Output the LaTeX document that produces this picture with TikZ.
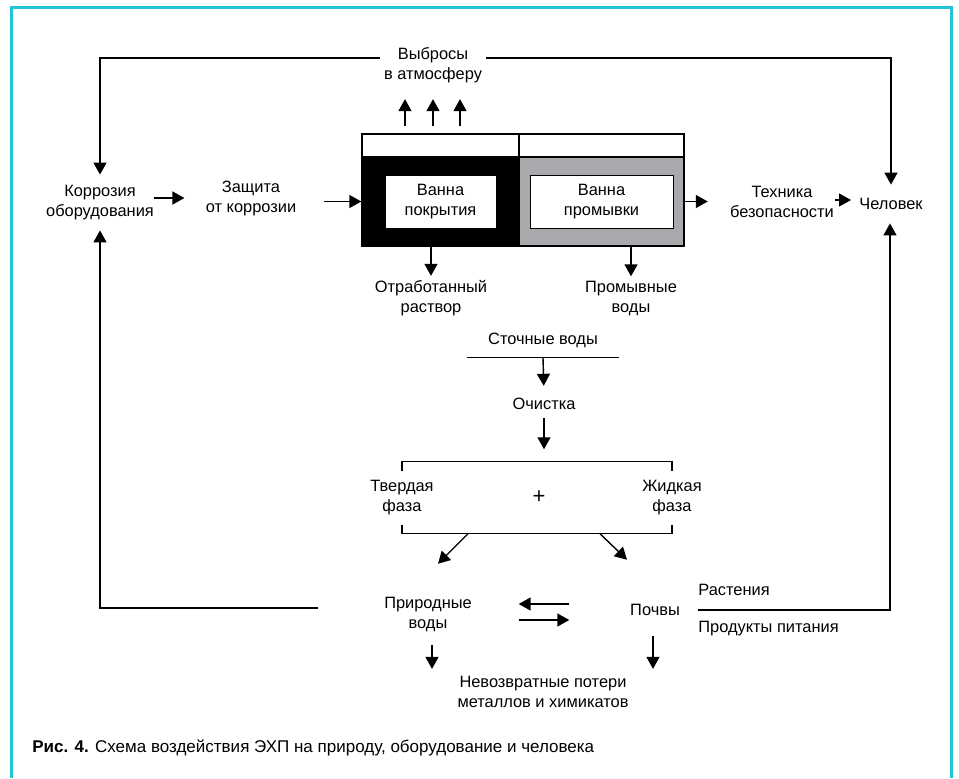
\documentclass[tikz,border=0pt]{standalone}
\usepackage{fontspec}
\setmainfont{Liberation Sans}
\usepackage{xcolor}
\usepackage{tikz}
\usetikzlibrary{arrows.meta}

\definecolor{framecyan}{RGB}{35,196,214}
\definecolor{bathgray}{RGB}{167,169,172}

\begin{document}
\begin{tikzpicture}[
  x=0.5pt, y=-0.5pt,
  font=\fontsize{8.2}{10}\selectfont,
  lbl/.style={align=center, inner sep=2pt},
  bath/.style={draw, line width=0.7pt, inner sep=0pt, minimum height=44.5pt},
  strip/.style={draw, fill=white, line width=0.7pt, inner sep=0pt, minimum height=11.5pt},
  inbox/.style={draw, fill=white, line width=0.4pt, align=center, inner sep=0pt, minimum height=26.5pt},
  arrow/.style={-{Triangle[length=6pt, width=6.5pt]}, line width=0.7pt},
  line/.style={line width=0.7pt}
]
  \useasboundingbox (0,0) rectangle (959,778);

  % Frame
  \draw[framecyan, line width=1.5pt] (11.5,778) -- (11.5,7.5) -- (951.5,7.5) -- (951.5,778);

  % Top row
  \node[lbl] (emis) at (433,65) {Выбросы\\в атмосферу};
  \node[lbl, minimum height=27.5pt] (corr) at (100,202.5) {Коррозия\\оборудования};
  \node[lbl] (prot) at (251,198) {Защита\\от коррозии};
  \node[lbl] (tech) at (782,202) {Техника\\безопасности};
  \node[lbl, minimum height=19pt] (man) at (891,204) {Человек};

  % Baths
  \node[strip, minimum width=78.5pt] (stripL) at (440.5,145.5) {};
  \node[strip, minimum width=82.5pt] (stripR) at (601.5,145.5) {};
  \node[bath, fill=black, minimum width=78.5pt] (coat) at (440.5,201.5) {};
  \node[bath, fill=bathgray, minimum width=82.5pt] (rinse) at (601.5,201.5) {};
  \node[inbox, minimum width=55.5pt] (coatin) at (440.5,201.5) {Ванна\\покрытия};
  \node[inbox, minimum width=71.5pt] (rinsein) at (601.5,201.5) {Ванна\\промывки};

  % Outflows
  \node[lbl] (spent) at (431,298) {Отработанный\\раствор};
  \node[lbl] (rinsew) at (631,298) {Промывные\\воды};
  \node[lbl, minimum width=76pt] (waste) at (543,340) {Сточные воды};
  \node[lbl] (clean) at (544,404) {Очистка};

  % Phases
  \node[lbl] (solid) at (402,498) {Твердая\\фаза};
  \node[lbl, font=\fontsize{11}{12}\selectfont] (plus) at (539,497) {+};
  \node[lbl] (liquid) at (672,498) {Жидкая\\фаза};

  % Nature
  \node[lbl] (nat) at (428,614) {Природные\\воды};
  \node[lbl] (soil) at (655,610) {Почвы};
  \node[lbl, anchor=west] (plants) at (694,590) {Растения};
  \node[lbl, anchor=west] (food) at (694,629) {Продукты питания};
  \node[lbl] (loss) at (543,692) {Невозвратные потери\\металлов и химикатов};

  % Caption
  \node[anchor=west, inner sep=0pt, font=\fontsize{8.5}{10}\selectfont] (cap) at (32,748)
    {\textbf{Рис. 4.} Схема воздействия ЭХП на природу, оборудование и человека};

  % Arrows
  \draw[arrow] ([yshift=3.5pt]emis.east) -| (man.north);
  \draw[arrow] ([yshift=3.5pt]emis.west) -| (corr.north);
  \draw[arrow, shorten <=-2pt, shorten >=8.5pt] (corr.east |- prot.west) -- (prot.west);
  \draw[arrow, shorten <=11.5pt] (prot.east |- coat.west) -- (coat.west);

  \foreach \dx [count=\i] in {-17.75,-3.75,9.75}
    \coordinate (up\i) at ([xshift=\dx pt]stripL.north);
  \foreach \i in {1,2,3}
    \draw[arrow, shorten <=3.5pt, shorten >=6pt] (up\i) -- (up\i |- emis.south);

  \draw[arrow] (spent.north |- coat.south) -- (spent.north);
  \draw[arrow] (rinsew.north |- rinse.south) -- (rinsew.north);
  \draw[arrow, shorten >=9pt] (rinse.east) -- (rinse.east -| tech.west);
  \draw[arrow, shorten <=-1.5pt, shorten >=2pt] ([yshift=2pt]man.west -| tech.east) -- ([yshift=2pt]man.west);

  \draw[line] ([yshift=-3pt]waste.south west) -- ([yshift=-3pt]waste.south east);
  \draw[arrow, shorten >=4pt] ([yshift=-3pt]waste.south) -- (clean.north);

  % Brackets
  \draw[line] ([yshift=2.5pt]solid.north) -- ([yshift=7.5pt]solid.north) -| ([yshift=2.5pt]liquid.north);
  \draw[line] ([yshift=-2.5pt]solid.south) -- ([yshift=-7pt]solid.south) -| ([yshift=-2.5pt]liquid.south);
  \path ([yshift=7.5pt]solid.north) coordinate (btopL);
  \path ([yshift=-7pt]solid.south) coordinate (bbotL);
  \draw[arrow, shorten <=2pt, shorten >=6pt] (clean.south) -- (btopL -| clean.south);

  \coordinate (dl) at ([xshift=33pt]bbotL);
  \coordinate (dr) at ([xshift=99pt]bbotL);
  \draw[arrow] (dl) -- ++(-30,30);
  \draw[arrow] (dr) -- ++(27,26);

  \draw[arrow, shorten <=28.25pt, shorten >=21.25pt] ([yshift=3pt]soil.west) -- ([yshift=5pt]nat.east);
  \draw[arrow, shorten <=21.25pt, shorten >=28.25pt] ([yshift=-3pt]nat.east) -- ([yshift=-5pt]soil.west);

  \draw[arrow, shorten <=4.5pt, shorten >=1.5pt] ([xshift=2pt]nat.south) -- ([xshift=2pt]nat.south |- loss.north);
  \draw[arrow, shorten <=8pt, shorten >=1.5pt] ([xshift=-1pt]soil.south) -- ([xshift=-1pt]soil.south |- loss.north);

  % Return lines
  \coordinate (crop) at (plants.west |- soil.east);
  \draw[arrow] ([xshift=2pt]crop) -| ([xshift=-0.5pt]man.south);
  \draw[arrow] ([xshift=-31pt, yshift=3pt]nat.west) -| (corr.south);
\end{tikzpicture}
\end{document}
